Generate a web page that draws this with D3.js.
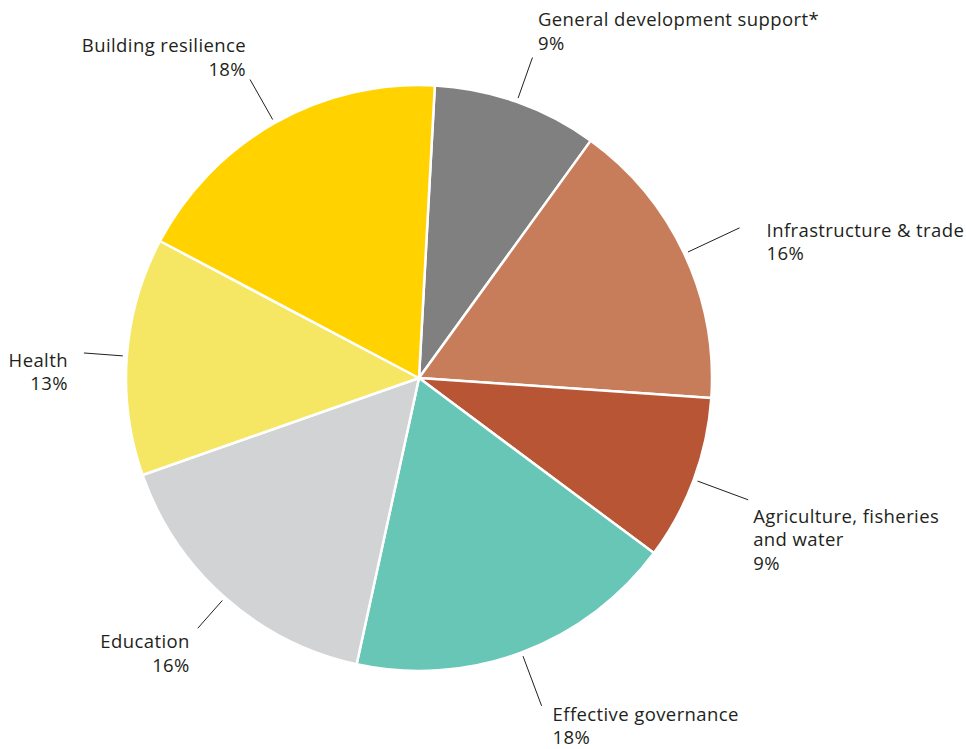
<!DOCTYPE html>
<html>
<head>
<meta charset="utf-8">
<script src="https://cdn.jsdelivr.net/npm/d3@7"></script>
<style>
  html, body { margin: 0; padding: 0; background: #ffffff; }
  svg { display: block; }
  text { font-family: "Open Sans", "Noto Sans", sans-serif; font-size: 18.5px; letter-spacing: 0.4px; fill: #231f20; }
</style>
</head>
<body>
<svg id="chart" width="966" height="749"></svg>
<script>
// ---- data ----
const categories = [
  "General development support*",
  "Infrastructure & trade",
  "Agriculture, fisheries and water",
  "Effective governance",
  "Education",
  "Health",
  "Building resilience"
];
const values = [9.1, 16.1, 9.1, 18.2, 16.2, 13.1, 18.1];
const percentLabels = ["9%", "16%", "9%", "18%", "16%", "13%", "18%"];
const labelLines = [
  ["General development support*"],
  ["Infrastructure & trade"],
  ["Agriculture, fisheries", "and water"],
  ["Effective governance"],
  ["Education"],
  ["Health"],
  ["Building resilience"]
];
const colors = ["#808080", "#c77d5a", "#b85535", "#67c6b5", "#d1d3d4", "#f5e763", "#ffd200"];

// ---- layout (styling) ----
const cx = 419, cy = 378, radius = 293;
const startDeg = 3.1;
// leader end radius and label offset from leader end
const labelLayout = [
  { r: 340, dx: 5.5, dy: -31.5, anchor: "start" },
  { r: 354, dx: 27, dy: 9, anchor: "start" },
  { r: 351, dx: 5, dy: 23, anchor: "start" },
  { r: 350, dx: 11, dy: 15, anchor: "start" },
  { r: 334, dx: -8, dy: 20, anchor: "end" },
  { r: 336, dx: -16, dy: 14, anchor: "end" },
  { r: 343, dx: -4, dy: -27.5, anchor: "end" }
];
const lineHeight = 23.5;

const data = categories.map((c, i) => ({ name: c, value: values[i], pct: percentLabels[i], lines: labelLines[i], color: colors[i], layout: labelLayout[i] }));

const svg = d3.select("#chart");
const g = svg.append("g").attr("transform", `translate(${cx},${cy})`);

const start = startDeg * Math.PI / 180;
const pie = d3.pie().value(d => d.value).sort(null).startAngle(start).endAngle(start + 2 * Math.PI);
const arcs = pie(data);
const arc = d3.arc().innerRadius(0).outerRadius(radius);

g.selectAll("path.slice")
  .data(arcs)
  .join("path")
  .attr("class", "slice")
  .attr("d", arc)
  .attr("fill", d => d.data.color)
  .attr("stroke", "#ffffff")
  .attr("stroke-width", 2.5)
  .attr("stroke-linejoin", "round");

const pt = (a, r) => [Math.sin(a) * r, -Math.cos(a) * r];

// leader lines
g.selectAll("line.leader")
  .data(arcs)
  .join("line")
  .attr("class", "leader")
  .each(function (d) {
    const mid = (d.startAngle + d.endAngle) / 2;
    const p0 = pt(mid, radius + 4);
    const p1 = pt(mid, d.data.layout.r);
    d3.select(this)
      .attr("x1", p0[0]).attr("y1", p0[1])
      .attr("x2", p1[0]).attr("y2", p1[1]);
  })
  .attr("stroke", "#231f20")
  .attr("stroke-width", 1);

// labels
g.selectAll("text.label")
  .data(arcs)
  .join("text")
  .attr("class", "label")
  .each(function (d) {
    const mid = (d.startAngle + d.endAngle) / 2;
    const L = d.data.layout;
    const p = pt(mid, L.r);
    const x = p[0] + L.dx, y = p[1] + L.dy;
    const t = d3.select(this).attr("text-anchor", L.anchor);
    const lines = d.data.lines.concat([d.data.pct]);
    lines.forEach((s, i) => {
      t.append("tspan").attr("x", x).attr("y", y + i * lineHeight).text(s);
    });
  });
</script>
</body>
</html>
